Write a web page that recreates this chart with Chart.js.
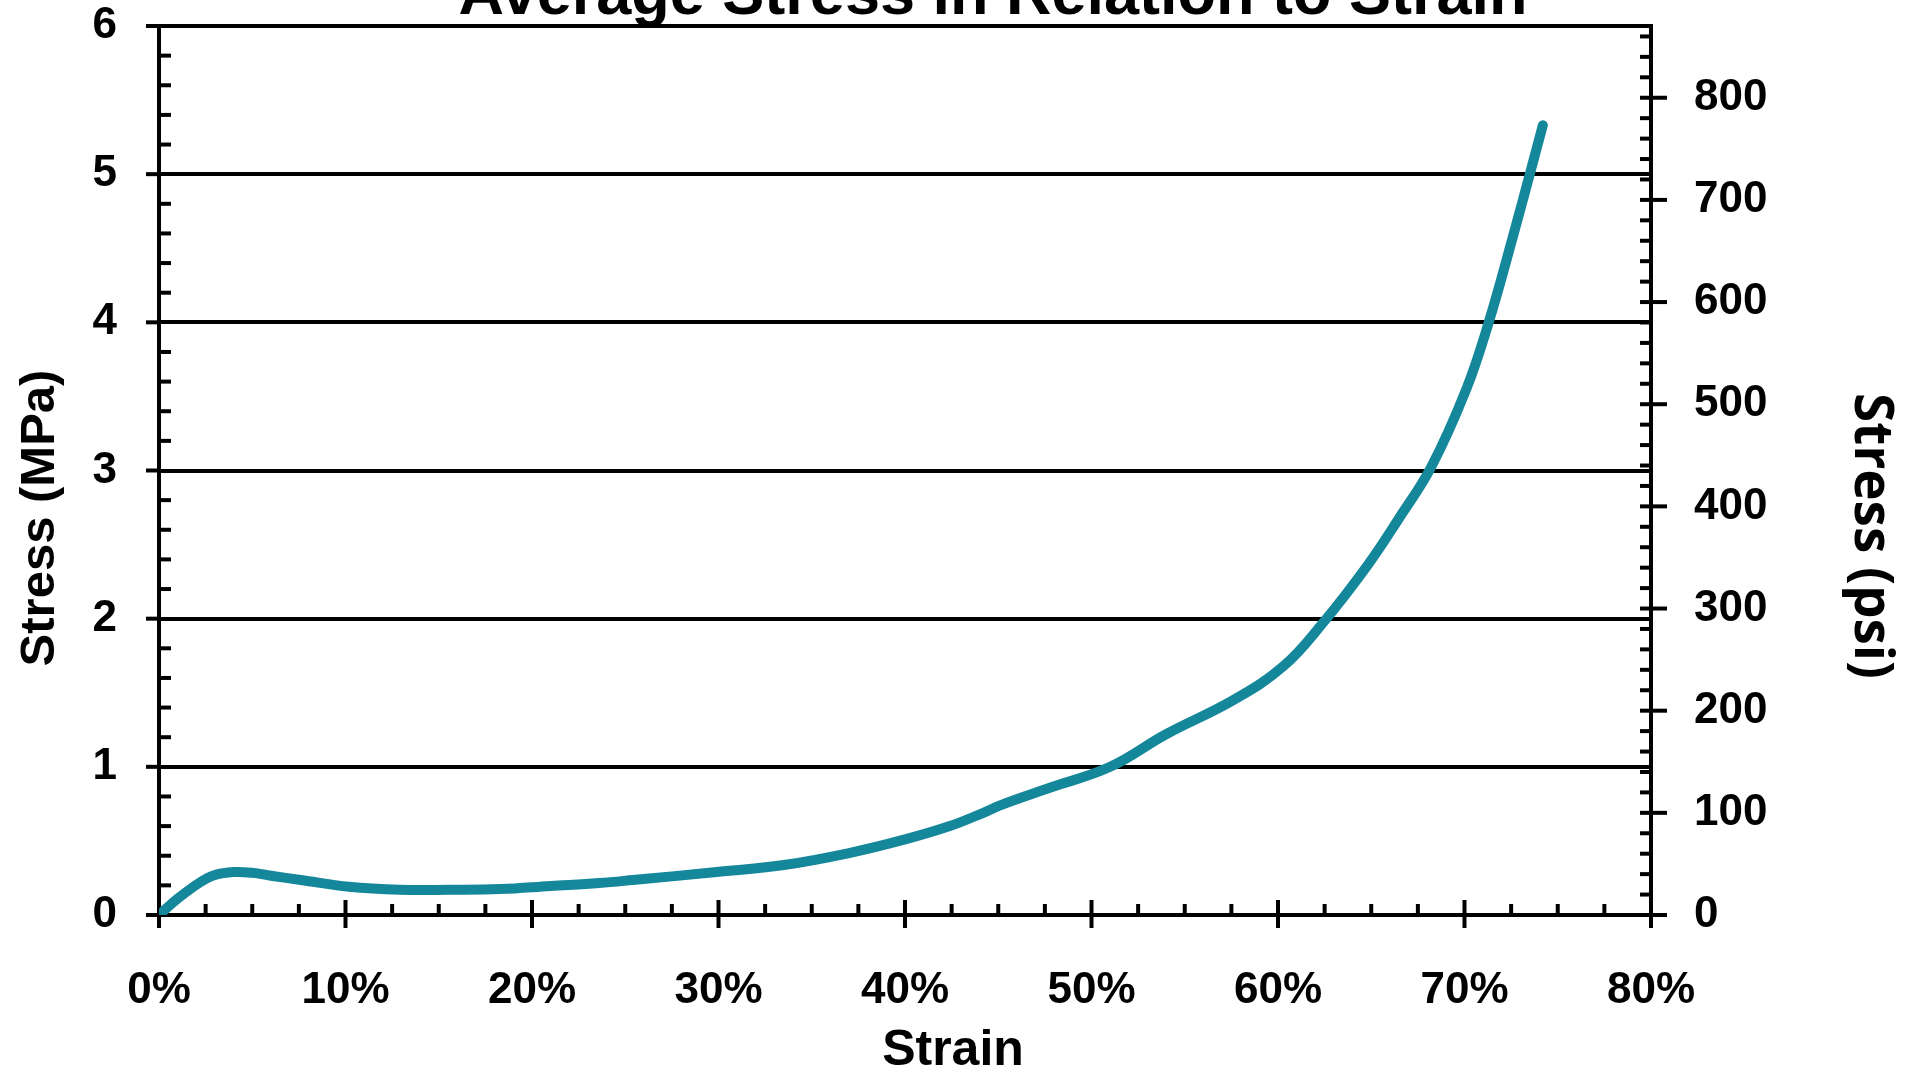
<!DOCTYPE html>
<html>
<head>
<meta charset="utf-8">
<script src="https://cdn.jsdelivr.net/npm/chart.js@4/dist/chart.umd.min.js"></script>
<style>
html,body{margin:0;padding:0;background:#fff;overflow:hidden}
canvas{display:block}
</style>
</head>
<body>
<canvas id="c" width="1915" height="1072"></canvas>
<script>
// ---- data ----
const strainPct = [0, 1, 2.2, 3, 4, 5, 6, 7.6, 10.2, 12.9, 15.6, 18.3, 21, 23.6, 25.4, 29.9, 33.5, 37, 40, 42.4, 44.2, 45.1, 47.8, 51, 54, 57.6, 60.3, 62.4, 64.8, 66.5, 68.2, 70.1, 71.3, 72.6, 73.5, 74.2];
const stressMPa = [0, 0.11, 0.22, 0.27, 0.29, 0.285, 0.265, 0.236, 0.19, 0.17, 0.17, 0.175, 0.196, 0.216, 0.236, 0.29, 0.337, 0.418, 0.51, 0.60, 0.69, 0.74, 0.86, 1.0, 1.22, 1.45, 1.68, 1.97, 2.36, 2.68, 3.02, 3.55, 4.0, 4.58, 5.0, 5.33];
const xTickLabels = ['0%', '10%', '20%', '30%', '40%', '50%', '60%', '70%', '80%'];
const mpaTicks = [0, 1, 2, 3, 4, 5, 6];
const psiTicks = [0, 100, 200, 300, 400, 500, 600, 700, 800];
const PSI_PER_MPA = 145.0377;

const chartTitle = 'Average Stress in Relation to Strain';
const xTitle = 'Strain';
const yTitle = 'Stress (MPa)';
const y2Title = 'Stress (psi)';

const FONT = '"Liberation Sans", Arial, sans-serif';
const tickFont = {family: FONT, size: 44, weight: 'bold', lineHeight: 1};

const points = strainPct.map((s, i) => ({x: s, y: stressMPa[i]}));

function seg(ctx, x1, y1, x2, y2) {
  ctx.beginPath(); ctx.moveTo(x1, y1); ctx.lineTo(x2, y2); ctx.stroke();
}

const tickPlugin = {
  id: 'tickMarks',
  beforeDatasetsDraw(chart) {
    const {ctx, chartArea: a, scales} = chart;
    const x = scales.x, y = scales.y, y2 = scales.y2;
    ctx.save();
    ctx.strokeStyle = '#000';
    ctx.lineWidth = 4;
    for (let i = 0; i <= 32; i++) {
      const px = x.getPixelForValue(i * 2.5);
      if (i % 4 === 0) seg(ctx, px, a.bottom - 15, px, a.bottom + 13);
      else seg(ctx, px, a.bottom - 11, px, a.bottom);
    }
    for (let i = 0; i <= 30; i++) {
      const py = y.getPixelForValue(i * 0.2);
      if (i % 5 === 0) seg(ctx, a.left - 13, py, a.left, py);
      else seg(ctx, a.left, py, a.left + 12, py);
    }
    for (let i = 0; i * 20 <= y2.max; i++) {
      const py = y2.getPixelForValue(i * 20);
      if (i % 5 === 0) seg(ctx, a.right - 11, py, a.right + 16, py);
      else seg(ctx, a.right - 11, py, a.right, py);
    }
    ctx.restore();
  }
};

const titlePlugin = {
  id: 'titles',
  afterDraw(chart) {
    const ctx = chart.ctx;
    ctx.save();
    ctx.fillStyle = '#000';
    ctx.textAlign = 'center';
    ctx.font = 'bold 63px ' + FONT;
    ctx.textBaseline = 'alphabetic';
    ctx.fillText(chartTitle, 993, 14);

    ctx.textBaseline = 'middle';
    ctx.font = 'bold 50px ' + FONT;
    ctx.fillText(xTitle, 953, 1051);

    ctx.save();
    ctx.translate(40, 518);
    ctx.rotate(-Math.PI / 2);
    ctx.font = 'bold 49px ' + FONT;
    ctx.fillText(yTitle, 0, 0);
    ctx.restore();

    ctx.save();
    ctx.translate(1870, 536);
    ctx.rotate(Math.PI / 2);
    ctx.font = 'bold 53px "Open Sans", sans-serif';
    ctx.fillText(y2Title, 0, 0);
    ctx.restore();
    ctx.restore();
  }
};

function noEdgePadding(s) {
  s.paddingTop = 0; s.paddingBottom = 0;
}

new Chart(document.getElementById('c'), {
  type: 'line',
  data: {
    datasets: [{
      data: points,
      borderColor: '#14879A',
      borderWidth: 10,
      borderCapStyle: 'round',
      borderJoinStyle: 'round',
      pointRadius: 0,
      fill: false,
      tension: 0.4
    }]
  },
  options: {
    responsive: false,
    animation: false,
    devicePixelRatio: 1,
    layout: {padding: {top: 26, left: 0, right: 0, bottom: 0}},
    plugins: {legend: {display: false}, tooltip: {enabled: false}, title: {display: false}},
    scales: {
      x: {
        type: 'linear', position: 'bottom', min: 0, max: 80,
        afterFit(s) { s.height = 157; s.paddingLeft = 0; s.paddingRight = 0; },
        grid: {display: false},
        border: {display: true, color: '#000', width: 4},
        ticks: {
          stepSize: 10, autoSkip: false, maxRotation: 0, padding: 46,
          color: '#000', font: tickFont,
          callback: (v) => xTickLabels[Math.round(v / 10)] ?? ''
        }
      },
      y: {
        type: 'linear', position: 'left', min: mpaTicks[0], max: mpaTicks[mpaTicks.length - 1],
        afterFit(s) { s.width = 159; noEdgePadding(s); },
        grid: {display: true, color: '#000', lineWidth: 4, drawTicks: false},
        border: {display: true, color: '#000', width: 4},
        ticks: {stepSize: 1, padding: 42, color: '#000', font: tickFont}
      },
      y2: {
        type: 'linear', position: 'right', min: 0, max: mpaTicks[mpaTicks.length - 1] * PSI_PER_MPA,
        afterFit(s) { s.width = 264; noEdgePadding(s); },
        grid: {display: false, drawOnChartArea: false},
        border: {display: true, color: '#000', width: 4},
        ticks: {
          stepSize: 100, includeBounds: false, padding: 35, color: '#000', font: tickFont,
          callback: (v) => psiTicks.includes(v) ? String(v) : ''
        }
      }
    }
  },
  plugins: [tickPlugin, titlePlugin]
});
</script>
</body>
</html>
